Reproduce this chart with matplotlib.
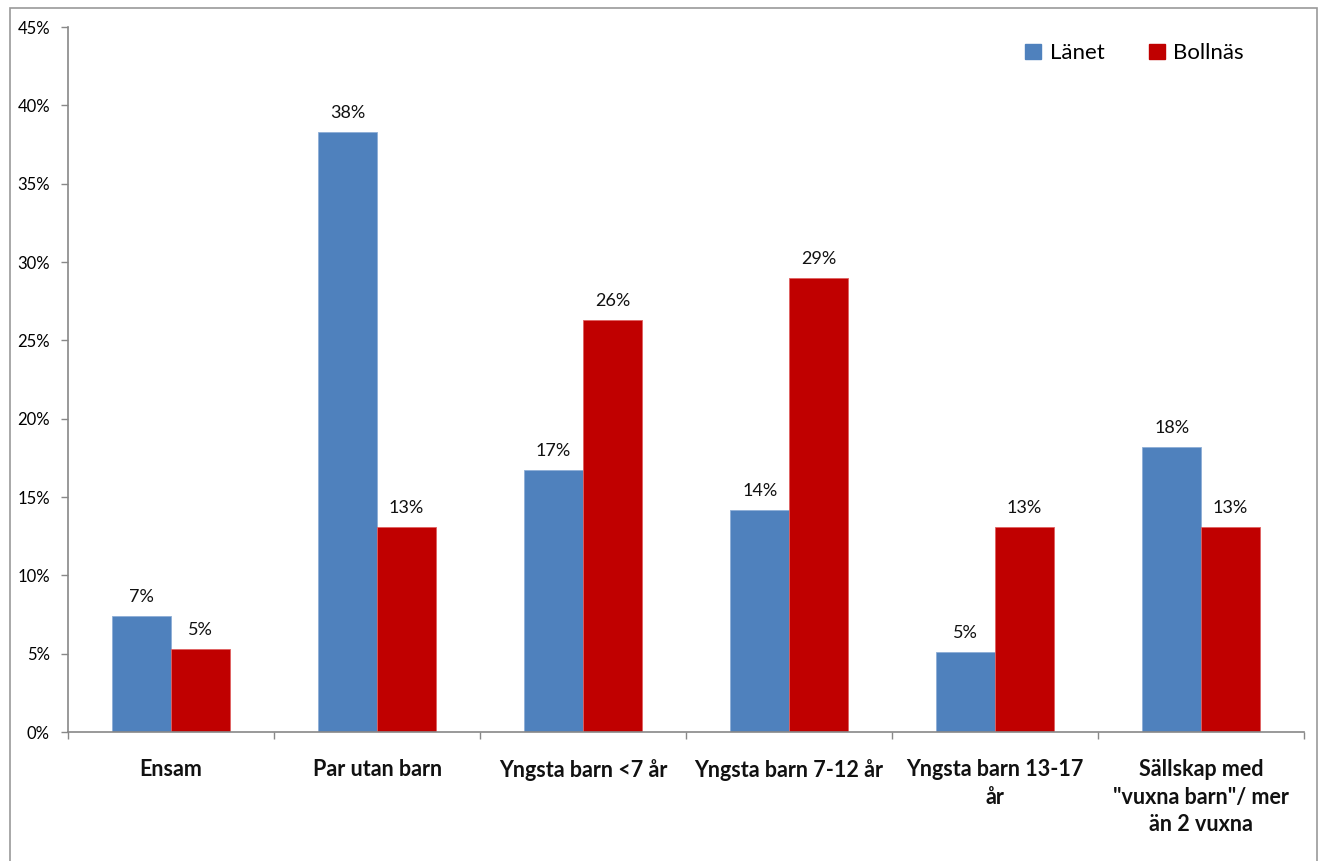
import numpy as np
import matplotlib.pyplot as plt
from matplotlib.patches import Rectangle, Patch

plt.rcParams['font.family'] = ['Lato', 'DejaVu Sans']

categories = ["Ensam", "Par utan barn", "Yngsta barn <7 år", "Yngsta barn 7-12 år",
              "Yngsta barn 13-17\når", "Sällskap med\n\"vuxna barn\"/ mer\nän 2 vuxna"]
lanet = [7.4, 38.3, 16.7, 14.2, 5.1, 18.2]
bollnas = [5.3, 13.1, 26.3, 29.0, 13.1, 13.1]
series_names = ["Länet", "Bollnäs"]

blue = '#4F81BD'
red = '#C00000'
grey = '#888888'

fig = plt.figure(figsize=(13.24, 8.61), dpi=100)
ax = fig.add_axes([0.0514, 0.1498, 0.9336, 0.8188])

x = np.arange(len(categories))
w = 0.286
b1 = ax.bar(x - w/2, lanet, w, color=blue, edgecolor='#8DAED6', linewidth=0.6)
b2 = ax.bar(x + w/2, bollnas, w, color=red, edgecolor='#E06060', linewidth=0.6)

for bars, vals in [(b1, lanet), (b2, bollnas)]:
    for rect, v in zip(bars, vals):
        ax.text(rect.get_x() + rect.get_width()/2, v + 0.7, f"{v:.0f}%",
                ha='center', va='bottom', fontsize=13, color='#111111')

ax.set_xlim(-0.5, len(categories) - 0.5)
ax.set_ylim(0, 45)
ax.set_yticks(np.arange(0, 46, 5))
ax.set_yticklabels([f"{t}%" for t in range(0, 46, 5)], fontsize=12)
ax.set_xticks(np.arange(-0.5, len(categories), 1))
ax.set_xticklabels([])
ax.tick_params(axis='both', color=grey, length=5, width=1)
ax.tick_params(axis='y', pad=8)
for s in ['top', 'right']:
    ax.spines[s].set_visible(False)
for s in ['left', 'bottom']:
    ax.spines[s].set_color(grey)
    ax.spines[s].set_linewidth(1.2)

for i, c in enumerate(categories):
    ax.text(i, -1.75, c, ha='center', va='top', fontsize=15.5, fontweight='bold',
            linespacing=1.38, color='#111111')

handles = [Patch(color=blue), Patch(color=red)]
fig.legend(handles, series_names, loc='center', bbox_to_anchor=(0.857, 0.938),
           ncol=2, frameon=False, fontsize=16, handlelength=0.7, handleheight=0.7,
           handletextpad=0.4, columnspacing=2.0)

fig.patches.append(Rectangle((10/1324, -0.01), 1307/1324, 1 - 8/861 + 0.01,
                             transform=fig.transFigure, fill=False,
                             edgecolor='#999999', linewidth=1.2))

fig.savefig('out.png', dpi=100)
